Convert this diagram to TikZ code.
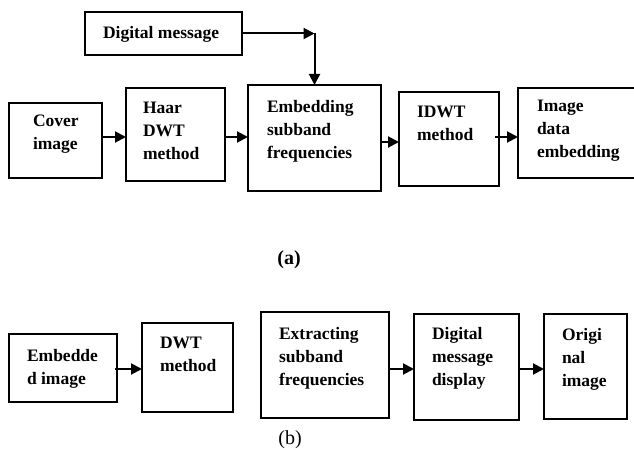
\documentclass[tikz,border=0pt]{standalone}
\usepackage{fontspec}
\setmainfont{Liberation Serif}
\usetikzlibrary{calc,arrows.meta}
\tikzset{
  box/.style={draw,line width=1.6bp,inner sep=0pt,outer sep=0pt,anchor=north west},
  txt/.style={inner sep=0pt,outer sep=0pt,anchor=north west,align=left,
    font=\fontsize{17.5bp}{23bp}\selectfont\bfseries},
  arr/.style={line width=2bp,-{Triangle[length=11bp,width=11bp]}},
  caption/.style={inner sep=0pt,font=\fontsize{20bp}{24bp}\selectfont}
}
\begin{document}
\begin{tikzpicture}[x=1bp,y=-1bp]
\useasboundingbox (0,0) rectangle (634,450);
% (a) row
\node[box,minimum width=157bp,minimum height=43bp] (dm) at (85,12) {};
\node[box,minimum width=93bp,minimum height=75bp] (cover) at (9,103) {};
\node[box,minimum width=99bp,minimum height=93bp] (haar) at (126,88) {};
\node[box,minimum width=133bp,minimum height=106bp] (emb) at (248,85) {};
\node[box,minimum width=100bp,minimum height=94bp] (idwt) at (399,92) {};
\node[box,minimum width=130bp,minimum height=90bp] (ide) at (518,88) {};

\node[txt] (tdm) at ($(dm.north west)+(18,14)$) {Digital message};
\node[txt] (tcover) at ($(cover.north west)+(24,12)$) {Cover\\image};
\node[txt] (thaar) at ($(haar.north west)+(17,14)$) {Haar\\DWT\\method};
\node[txt] (temb) at ($(emb.north west)+(19,15)$) {Embedding\\subband\\frequencies};
\node[txt] (tidwt) at ($(idwt.north west)+(18,14)$) {IDWT\\method};
\node[txt] (tide) at ($(ide.north west)+(19,12)$) {Image\\data\\embedding};

\coordinate (corner) at (emb.north |- dm.east);
\draw[arr] (dm.east) -- (corner);
\draw[arr] (corner) -- (emb.north);
\draw[arr] (cover.east |- 0,137) -- (haar.west |- 0,137);
\draw[arr] (haar.east |- 0,137) -- (emb.west |- 0,137);
\draw[arr] (emb.east |- 0,142) -- (idwt.west |- 0,142);
\draw[arr] ([xshift=-4bp]idwt.east |- 0,137) -- (ide.west |- 0,137);

\node[caption,font=\fontsize{20bp}{24bp}\selectfont\bfseries] (la) at (289,260) {(a)};

% (b) row
\node[box,minimum width=108bp,minimum height=68bp] (ei) at (9,334) {};
\node[box,minimum width=91bp,minimum height=89bp] (dwt) at (142,323) {};
\node[box,minimum width=128bp,minimum height=106bp] (ext) at (261,312) {};
\node[box,minimum width=105bp,minimum height=106bp] (dmd) at (414,314) {};
\node[box,minimum width=83bp,minimum height=105bp] (orig) at (544,314) {};

\node[txt] (tei) at ($(ei.north west)+(18,15)$) {Embedde\\d image};
\node[txt] (tdwt) at ($(dwt.north west)+(18,14)$) {DWT\\method};
\node[txt] (text) at ($(ext.north west)+(18,15)$) {Extracting\\subband\\frequencies};
\node[txt] (tdmd) at ($(dmd.north west)+(18,13)$) {Digital\\message\\display};
\node[txt] (torig) at ($(orig.north west)+(18,14)$) {Origi\\nal\\image};

\draw[arr] ([xshift=-2bp]ei.east |- 0,369) -- (dwt.west |- 0,369);
\draw[arr] (ext.east |- 0,369) -- (dmd.west |- 0,369);
\draw[arr] (dmd.east |- 0,369) -- (orig.west |- 0,369);

\node[caption] (lb) at (290,440) {(b)};
\end{tikzpicture}
\end{document}
